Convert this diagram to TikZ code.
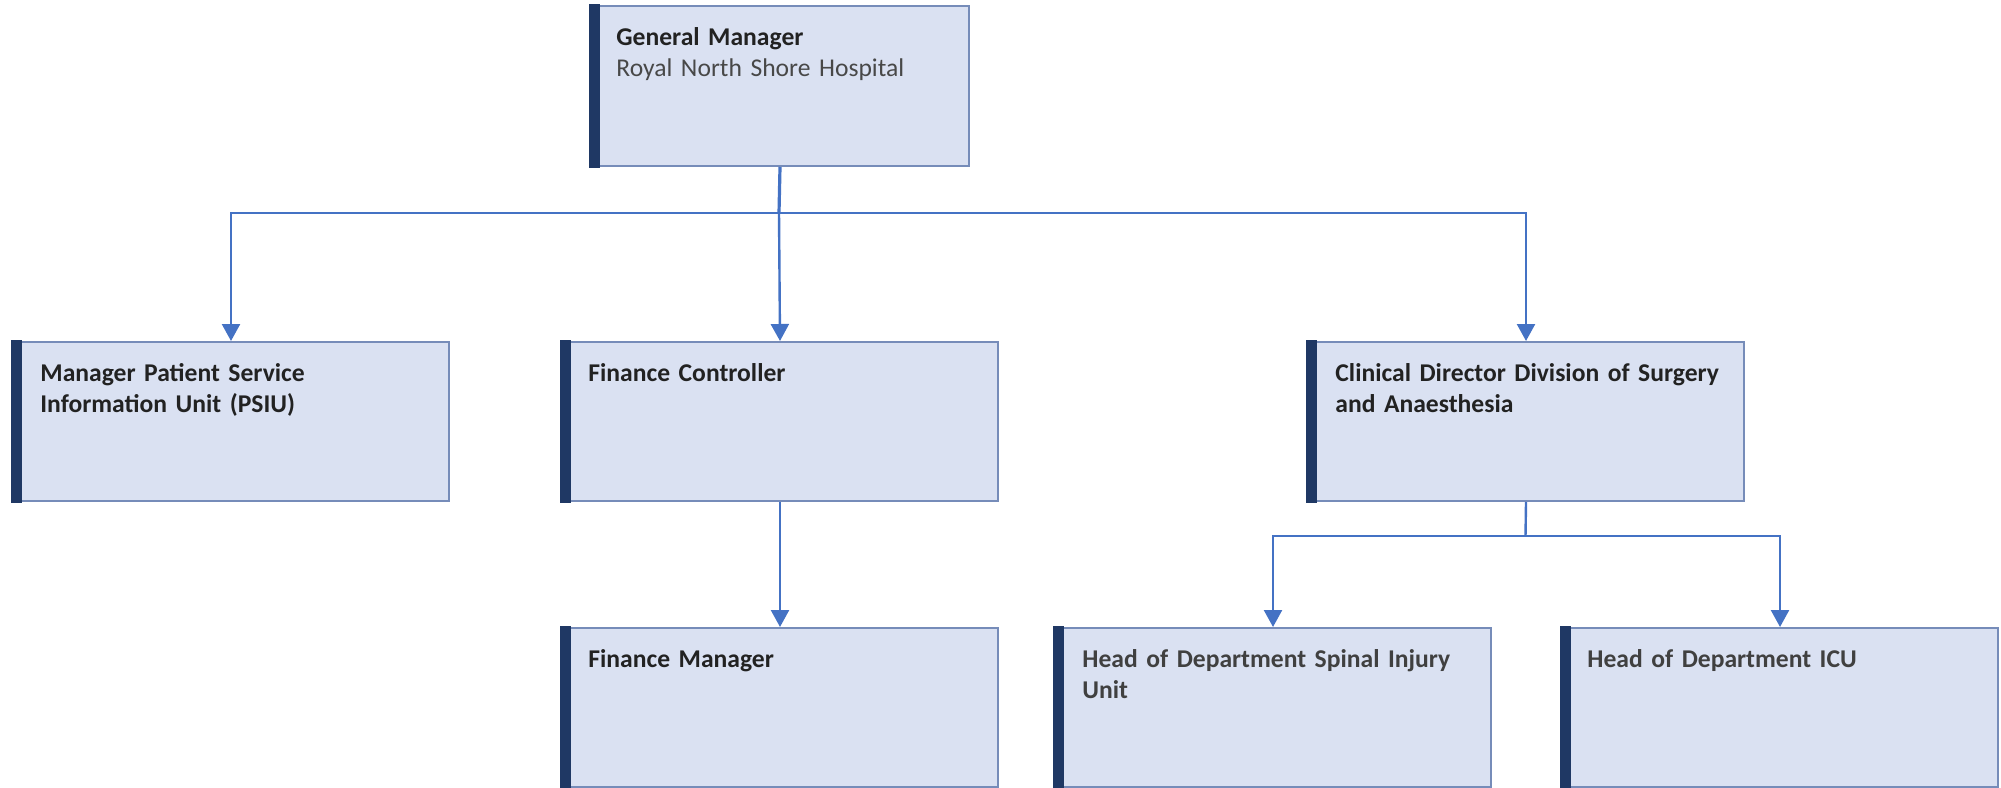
\documentclass[tikz,border=0pt]{standalone}
\usepackage{fontspec}
\setmainfont{Carlito}
\usetikzlibrary{arrows.meta}

\definecolor{boxfill}{RGB}{218,225,242}
\definecolor{boxedge}{RGB}{118,140,185}
\definecolor{barcol}{RGB}{31,56,100}
\definecolor{linkcol}{RGB}{68,114,196}
\definecolor{titlecol}{RGB}{34,34,34}
\definecolor{subcol}{RGB}{72,72,72}
\definecolor{deptcol}{RGB}{64,64,64}

\tikzset{
  orgbox/.style={rectangle, draw=boxedge, fill=boxfill, line width=1pt,
    anchor=north west, inner sep=0pt, minimum width=218pt, minimum height=79.5pt},
  lbl/.style={anchor=north west, inner sep=0pt, align=left, text width=#1,
    font=\fontsize{12.8pt}{15.5pt}\selectfont\bfseries, text=titlecol,
    execute at begin node=\strut},
  lbl/.default=200pt,
  link/.style={draw=linkcol, line width=1.2pt},
  arrowlink/.style={link, -{Triangle[width=9pt,length=8.5pt]}},
}

\begin{document}
\begin{tikzpicture}[x=0.5pt,y=-0.5pt]
  \useasboundingbox (0,0) rectangle (2001,787);

  % boxes
  \node[orgbox, minimum width=189pt, minimum height=80pt] (gm) at (590,5) {};
  \node[orgbox] (psiu)   at (12,341)   {};
  \node[orgbox] (fc)     at (561,341)  {};
  \node[orgbox] (cd)     at (1307,341) {};
  \node[orgbox] (fm)     at (561,627)  {};
  \node[orgbox] (spinal) at (1054,627) {};
  \node[orgbox] (icu)    at (1561,627) {};

  % dark accent bar on the left edge of each box
  \foreach \b in {gm,psiu,fc,cd,fm,spinal,icu}
    \fill[barcol] ([xshift=-0.5pt,yshift=0.5pt]\b.north west)
      rectangle ([xshift=5pt,yshift=-0.5pt]\b.south west);

  % labels
  \node[lbl] (gmt) at ([xshift=13pt,yshift=-9pt]gm.north west)
    {General Manager\\\mdseries\textcolor{subcol}{Royal North Shore Hospital}};
  \node[lbl] (psiut) at ([xshift=14pt,yshift=-9pt]psiu.north west)
    {Manager Patient Service\\Information Unit (PSIU)};
  \node[lbl] (fct) at ([xshift=13.5pt,yshift=-9pt]fc.north west)
    {Finance Controller};
  \node[lbl] (cdt) at ([xshift=14pt,yshift=-9pt]cd.north west)
    {Clinical Director Division of Surgery\\and Anaesthesia};
  \node[lbl] (fmt) at ([xshift=13.5pt,yshift=-9pt]fm.north west)
    {Finance Manager};
  \node[lbl, text=deptcol] (spinalt) at ([xshift=14pt,yshift=-9pt]spinal.north west)
    {Head of Department Spinal Injury\\Unit};
  \node[lbl, text=deptcol] (icut) at ([xshift=13pt,yshift=-9pt]icu.north west)
    {Head of Department ICU};

  % connectors
  \coordinate (hub) at (779,213);
  \coordinate (hub2) at (1525.5,536);
  \draw[link, line width=1.6pt] (gm.south) -- (hub);
  \draw[arrowlink] (hub) -| (psiu.north);
  \draw[arrowlink] (hub) -- (fc.north);
  \draw[arrowlink] (hub) -| (cd.north);
  \draw[arrowlink] (fc.south) -- (fm.north);
  \draw[link] (cd.south) -- (hub2);
  \draw[arrowlink] (hub2) -| (spinal.north);
  \draw[arrowlink] (hub2) -| (icu.north);
\end{tikzpicture}
\end{document}
